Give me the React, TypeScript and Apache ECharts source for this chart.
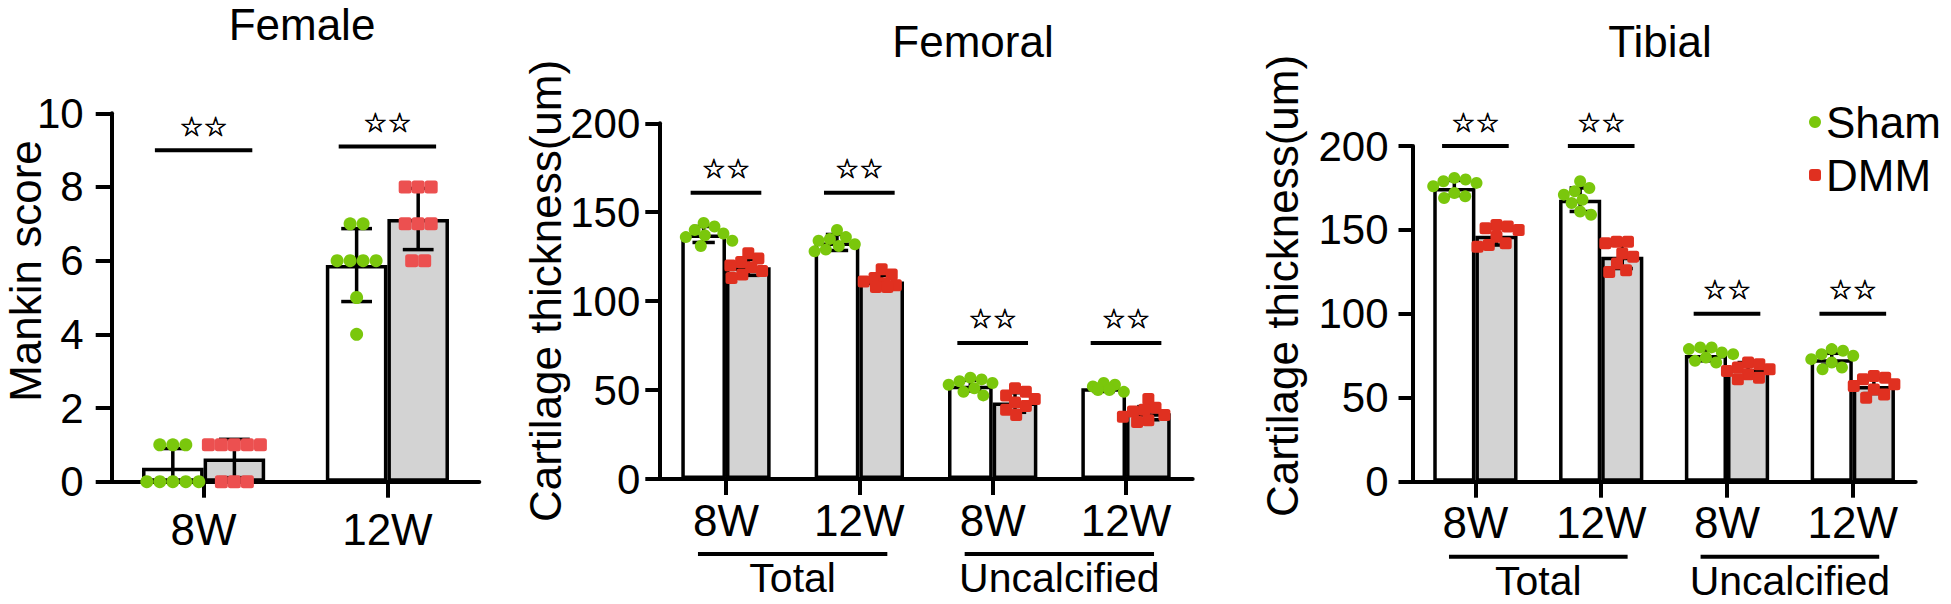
import React, { useEffect, useRef } from "react";
import * as echarts from "echarts";

// ---------- DATA ----------
const WEEKS = ["8W", "12W"];
const THICK_CATS = ["8W", "12W", "8W", "12W"];
const THICK_GROUPS = [
  { label: "Total", from: 0, to: 1 },
  { label: "Uncalcified", from: 2, to: 3 },
];
const PANEL_TITLES = ["Female", "Femoral", "Tibial"];
const Y_TITLES = ["Mankin score", "Cartilage thickness(um)", "Cartilage thickness(um)"];
const SIG_TEXT = "☆☆";
const LEGEND_NAMES = ["Sham", "DMM"];

// Panel 1: Mankin score (female)
const mankinYTicks = [0, 2, 4, 6, 8, 10];
const mankinShamDots = [
  [1, 1, 1, 0, 0, 0, 0, 0],
  [7, 7, 6, 6, 6, 6, 5, 4],
];
const mankinDmmDots = [
  [1, 1, 1, 1, 1, 0, 0, 0],
  [8, 8, 8, 7, 7, 7, 6, 6],
];
const mankinShamMean = [0.38, 5.88];
const mankinShamSD = [0.52, 0.99];
const mankinDmmMean = [0.63, 7.13];
const mankinDmmSD = [0.52, 0.83];
const mankinSig = [9.0, 9.1];

// Panel 2: Femoral cartilage thickness
const thickYTicks = [0, 50, 100, 150, 200];
const femShamDots = [
  [144, 142, 140, 138, 137, 136, 134, 131],
  [140, 136, 135, 134, 132, 131, 129, 128],
  [57, 56, 55, 54, 53, 51, 49, 47],
  [54, 53, 52, 51, 51, 50, 50, 49],
];
const femDmmDots = [
  [127, 124, 122, 120, 119, 117, 115, 113],
  [118, 115, 113, 111, 110, 109, 108, 108],
  [51, 49, 47, 45, 43, 41, 39, 36],
  [45, 40, 39, 38, 36, 35, 33, 32],
];
const femShamMean = [137.5, 133, 52.5, 51];
const femShamSD = [4.5, 4.5, 3, 1.8];
const femDmmMean = [119, 111, 43, 37];
const femDmmSD = [4.5, 3.5, 5.5, 3.7];
const femSig = [161, 161, 76.5, 76.5];

// Panel 3: Tibial cartilage thickness
const tibShamDots = [
  [181, 180, 179, 178, 176, 172, 170, 169],
  [179, 175, 173, 171, 168, 166, 161, 159],
  [80, 80, 79, 77, 76, 74, 72, 71],
  [79, 78, 76, 75, 73, 71, 68, 67],
];
const tibDmmDots = [
  [153, 152, 151, 150, 146, 142, 141, 140],
  [143, 143, 142, 136, 134, 130, 126, 125],
  [71, 70, 68, 67, 66, 64, 62, 61],
  [63, 62, 61, 58, 57, 55, 52, 50],
];
const tibShamMean = [175, 168, 75.5, 73];
const tibShamSD = [4.5, 7, 3.5, 3.5];
const tibDmmMean = [146.5, 134, 67, 57];
const tibDmmSD = [5.5, 7, 4, 4.5];
const tibSig = [200, 200, 100, 100];

// ---------- STYLE / LAYOUT ----------
const FONT = "'Liberation Sans', Arial, Helvetica, sans-serif";
const GREEN = "#7ac70c";
const RED_LIGHT = "#ec5050";
const RED = "#e03020";
const GREY = "#d3d3d3";
const GAP = 0.33;

const LAYOUT = [
  { left: 111.7, top: 113.3, width: 367.6, height: 368.4, yLabelMargin: 28, xLabelMargin: 26, yTick: 16, dot: 13, red: RED_LIGHT, title: [302, 24], yTitle: [25, 271] },
  { left: 659.3, top: 123.3, width: 533.4, height: 355.7, yLabelMargin: 19, xLabelMargin: 19, yTick: 14, dot: 12, red: RED, title: [973, 41.5], yTitle: [545, 291] },
  { left: 1412.5, top: 146, width: 503.2, height: 335.7, yLabelMargin: 24, xLabelMargin: 19, yTick: 14, dot: 12, red: RED, title: [1660, 41.5], yTitle: [1282, 286] },
];

const PANELS = [
  { cats: WEEKS, yTicks: mankinYTicks, shamDots: mankinShamDots, dmmDots: mankinDmmDots, shamMean: mankinShamMean, shamSD: mankinShamSD, dmmMean: mankinDmmMean, dmmSD: mankinDmmSD, sig: mankinSig, groups: [] as { label: string; from: number; to: number }[] },
  { cats: THICK_CATS, yTicks: thickYTicks, shamDots: femShamDots, dmmDots: femDmmDots, shamMean: femShamMean, shamSD: femShamSD, dmmMean: femDmmMean, dmmSD: femDmmSD, sig: femSig, groups: THICK_GROUPS },
  { cats: THICK_CATS, yTicks: thickYTicks, shamDots: tibShamDots, dmmDots: tibDmmDots, shamMean: tibShamMean, shamSD: tibShamSD, dmmMean: tibDmmMean, dmmSD: tibDmmSD, sig: tibSig, groups: THICK_GROUPS },
];

function swarm(ys: number[], d: number): number[] {
  const order = ys.map((_, i) => i).sort((a, b) => ys[a] - ys[b]);
  const xs = new Array(ys.length).fill(0);
  const placed: { x: number; y: number }[] = [];
  let k = 0;
  while (k < order.length) {
    let j = k;
    while (j + 1 < order.length && Math.abs(ys[order[j + 1]] - ys[order[k]]) < 0.5) j++;
    const n = j - k + 1;
    if (n > 1) {
      for (let m = 0; m < n; m++) {
        const x = (m - (n - 1) / 2) * d;
        xs[order[k + m]] = x;
        placed.push({ x, y: ys[order[k + m]] });
      }
    } else {
      const y = ys[order[k]];
      const cands = [0];
      placed.forEach((p) => {
        const dy = Math.abs(p.y - y);
        if (dy < d) {
          const dx = Math.sqrt(d * d - dy * dy);
          cands.push(p.x + dx, p.x - dx);
        }
      });
      cands.sort((a, b) => Math.abs(a) - Math.abs(b));
      let best = cands[cands.length - 1];
      for (const c of cands) {
        if (placed.every((p) => Math.hypot(p.x - c, p.y - y) >= d - 0.01)) {
          best = c;
          break;
        }
      }
      xs[order[k]] = best;
      placed.push({ x: best, y });
    }
    k = j + 1;
  }
  return xs;
}

function dotSeries(gi: number, name: string, dots: number[][], side: number, color: string, size: number, square: boolean) {
  const data: number[][] = [];
  dots.forEach((vals, ci) => vals.forEach((v, j) => data.push([ci, v, j])));
  let cache: Record<number, number[]> = {};
  const spacing = gi === 0 ? size : size * 0.95;
  return {
    type: "custom",
    name,
    xAxisIndex: gi,
    yAxisIndex: gi,
    z: 6,
    silent: true,
    itemStyle: { color },
    data,
    renderItem: (params: any, api: any) => {
      if (params.dataIndex === 0) cache = {};
      const ci = api.value(0);
      const v = api.value(1);
      const j = api.value(2);
      const band = api.size([1, 0])[0];
      const barW = (band * (1 - GAP)) / 2;
      const p = api.coord([ci, v]);
      if (!cache[ci]) {
        const ys = dots[ci].map((val) => api.coord([ci, val])[1]);
        cache[ci] = swarm(ys, spacing);
      }
      const cx = p[0] + (side === 0 ? -1 : 1) * (barW / 2) + cache[ci][j];
      const cy = p[1];
      if (square) {
        return { type: "rect", shape: { x: cx - size / 2, y: cy - size / 2, width: size, height: size, r: 2.5 }, style: { fill: color } };
      }
      return { type: "circle", shape: { cx, cy, r: size / 2 }, style: { fill: color } };
    },
  };
}

function errorSeries(gi: number, P: any) {
  const data: number[][] = [];
  P.cats.forEach((_: string, ci: number) => {
    data.push([ci, 0, P.shamMean[ci], P.shamSD[ci]]);
    data.push([ci, 1, P.dmmMean[ci], P.dmmSD[ci]]);
  });
  return {
    type: "custom",
    xAxisIndex: gi,
    yAxisIndex: gi,
    z: 5,
    silent: true,
    data,
    renderItem: (_params: any, api: any) => {
      const ci = api.value(0);
      const side = api.value(1);
      const mean = api.value(2);
      const sd = api.value(3);
      const band = api.size([1, 0])[0];
      const barW = (band * (1 - GAP)) / 2;
      const cx = api.coord([ci, mean])[0] + (side === 0 ? -1 : 1) * (barW / 2);
      const hi = api.coord([ci, mean + sd])[1];
      const loVal = mean - sd;
      const lo = api.coord([ci, Math.max(loVal, 0)])[1];
      const cw = barW * 0.25;
      const st = { stroke: "#000", lineWidth: 3.5 };
      const children: any[] = [
        { type: "line", shape: { x1: cx, y1: hi, x2: cx, y2: lo }, style: st },
        { type: "line", shape: { x1: cx - cw, y1: hi, x2: cx + cw, y2: hi }, style: st },
      ];
      if (loVal > 0) children.push({ type: "line", shape: { x1: cx - cw, y1: lo, x2: cx + cw, y2: lo }, style: st });
      return { type: "group", children };
    },
  };
}

function sigSeries(gi: number, levels: number[]) {
  return {
    type: "custom",
    xAxisIndex: gi,
    yAxisIndex: gi,
    z: 7,
    silent: true,
    data: levels.map((lv, ci) => [ci, lv]),
    renderItem: (_params: any, api: any) => {
      const p = api.coord([api.value(0), api.value(1)]);
      const band = api.size([1, 0])[0];
      const hw = band * 0.265;
      return {
        type: "group",
        children: [
          { type: "line", shape: { x1: p[0] - hw, y1: p[1], x2: p[0] + hw, y2: p[1] }, style: { stroke: "#000", lineWidth: 4 } },
          {
            type: "text",
            x: p[0],
            y: p[1] - 24,
            style: {
              text: SIG_TEXT,
              fontSize: 27,
              fontFamily: "'DejaVu Sans', sans-serif",
              fill: "#000",
              stroke: "#000",
              lineWidth: 0.7,
              align: "center",
              verticalAlign: "middle",
            },
          },
        ],
      };
    },
  };
}

function groupSeries(gi: number, groups: { label: string; from: number; to: number }[]) {
  return {
    type: "custom",
    xAxisIndex: gi,
    yAxisIndex: gi,
    z: 7,
    silent: true,
    data: groups.map((g) => [g.from, g.to]),
    renderItem: (params: any, api: any) => {
      const a = api.coord([api.value(0), 0]);
      const b = api.coord([api.value(1), 0]);
      const band = api.size([1, 0])[0];
      const ext = band * 0.21;
      const yLine = a[1] + 75;
      return {
        type: "group",
        children: [
          { type: "line", shape: { x1: a[0] - ext, y1: yLine, x2: b[0] + ext, y2: yLine }, style: { stroke: "#000", lineWidth: 4 } },
          {
            type: "text",
            x: (a[0] + b[0]) / 2,
            y: a[1] + 99,
            style: { text: groups[params.dataIndex].label, fontSize: 41, lineHeight: 32, fontFamily: FONT, fill: "#000", align: "center", verticalAlign: "middle" },
          },
        ],
      };
    },
  };
}

function buildOption() {
  const grid: any[] = [];
  const xAxis: any[] = [];
  const yAxis: any[] = [];
  const series: any[] = [];
  PANELS.forEach((P, gi) => {
    const L = LAYOUT[gi];
    grid.push({ left: L.left, top: L.top, width: L.width, height: L.height, containLabel: false, outerBoundsMode: "none" });
    xAxis.push({
      type: "category",
      gridIndex: gi,
      data: P.cats,
      axisLine: { show: true, lineStyle: { color: "#000", width: 4 } },
      axisTick: { show: true, alignWithLabel: true, interval: 0, length: 16, lineStyle: { color: "#000", width: 4 } },
      axisLabel: { interval: 0, fontSize: 44, color: "#000", fontFamily: FONT, margin: L.xLabelMargin },
      splitLine: { show: false },
    });
    const t = P.yTicks;
    yAxis.push({
      type: "value",
      gridIndex: gi,
      min: t[0],
      max: t[t.length - 1],
      interval: t[1] - t[0],
      axisLine: { show: true, lineStyle: { color: "#000", width: 4 } },
      axisTick: { show: true, length: L.yTick, lineStyle: { color: "#000", width: 4 } },
      axisLabel: { fontSize: 42, color: "#000", fontFamily: FONT, margin: L.yLabelMargin },
      splitLine: { show: false },
    });
    series.push({
      type: "bar",
      name: "Sham mean",
      xAxisIndex: gi,
      yAxisIndex: gi,
      data: P.shamMean,
      barGap: "0%",
      barCategoryGap: GAP * 100 + "%",
      itemStyle: { color: "#ffffff", borderColor: "#000", borderWidth: 3.5 },
      z: 2,
      silent: true,
    });
    series.push({
      type: "bar",
      name: "DMM mean",
      xAxisIndex: gi,
      yAxisIndex: gi,
      data: P.dmmMean,
      barGap: "0%",
      barCategoryGap: GAP * 100 + "%",
      itemStyle: { color: GREY, borderColor: "#000", borderWidth: 3.5 },
      z: 2,
      silent: true,
    });
    series.push(errorSeries(gi, P));
    series.push(dotSeries(gi, LEGEND_NAMES[0], P.shamDots, 0, GREEN, L.dot, false));
    series.push(dotSeries(gi, LEGEND_NAMES[1], P.dmmDots, 1, L.red, L.dot, true));
    series.push(sigSeries(gi, P.sig));
    if (P.groups.length) series.push(groupSeries(gi, P.groups));
  });

  const graphic: any[] = [];
  PANEL_TITLES.forEach((txt, i) => {
    graphic.push({ type: "text", x: LAYOUT[i].title[0], y: LAYOUT[i].title[1], silent: true, style: { text: txt, fontSize: 44, fontFamily: FONT, fill: "#000", align: "center", verticalAlign: "middle" } });
  });
  Y_TITLES.forEach((txt, i) => {
    graphic.push({
      type: "text",
      x: LAYOUT[i].yTitle[0],
      y: LAYOUT[i].yTitle[1],
      rotation: Math.PI / 2,
      silent: true,
      style: { text: txt, fontSize: 44, lineHeight: 36, fontFamily: FONT, fill: "#000", align: "center", verticalAlign: "middle" },
    });
  });

  return {
    animation: false,
    backgroundColor: "#ffffff",
    textStyle: { fontFamily: FONT, color: "#000" },
    grid,
    xAxis,
    yAxis,
    series,
    graphic,
    legend: {
      data: [
        { name: LEGEND_NAMES[0], icon: "circle", itemStyle: { color: GREEN } },
        { name: LEGEND_NAMES[1], icon: "roundRect", itemStyle: { color: RED } },
      ],
      orient: "vertical",
      left: 1809,
      top: 100,
      padding: 0,
      itemWidth: 12,
      itemHeight: 12,
      itemGap: 9,
      selectedMode: false,
      textStyle: { fontSize: 44, color: "#000", fontFamily: FONT },
    },
  };
}

export default function App() {
  const ref = useRef<HTMLDivElement>(null);
  useEffect(() => {
    if (!ref.current) return;
    const chart = echarts.init(ref.current, undefined, { renderer: "svg" });
    chart.setOption(buildOption() as any);
    return () => chart.dispose();
  }, []);
  return <div ref={ref} style={{ position: "absolute", left: 0, top: 0, width: 1951, height: 604 }} />;
}
